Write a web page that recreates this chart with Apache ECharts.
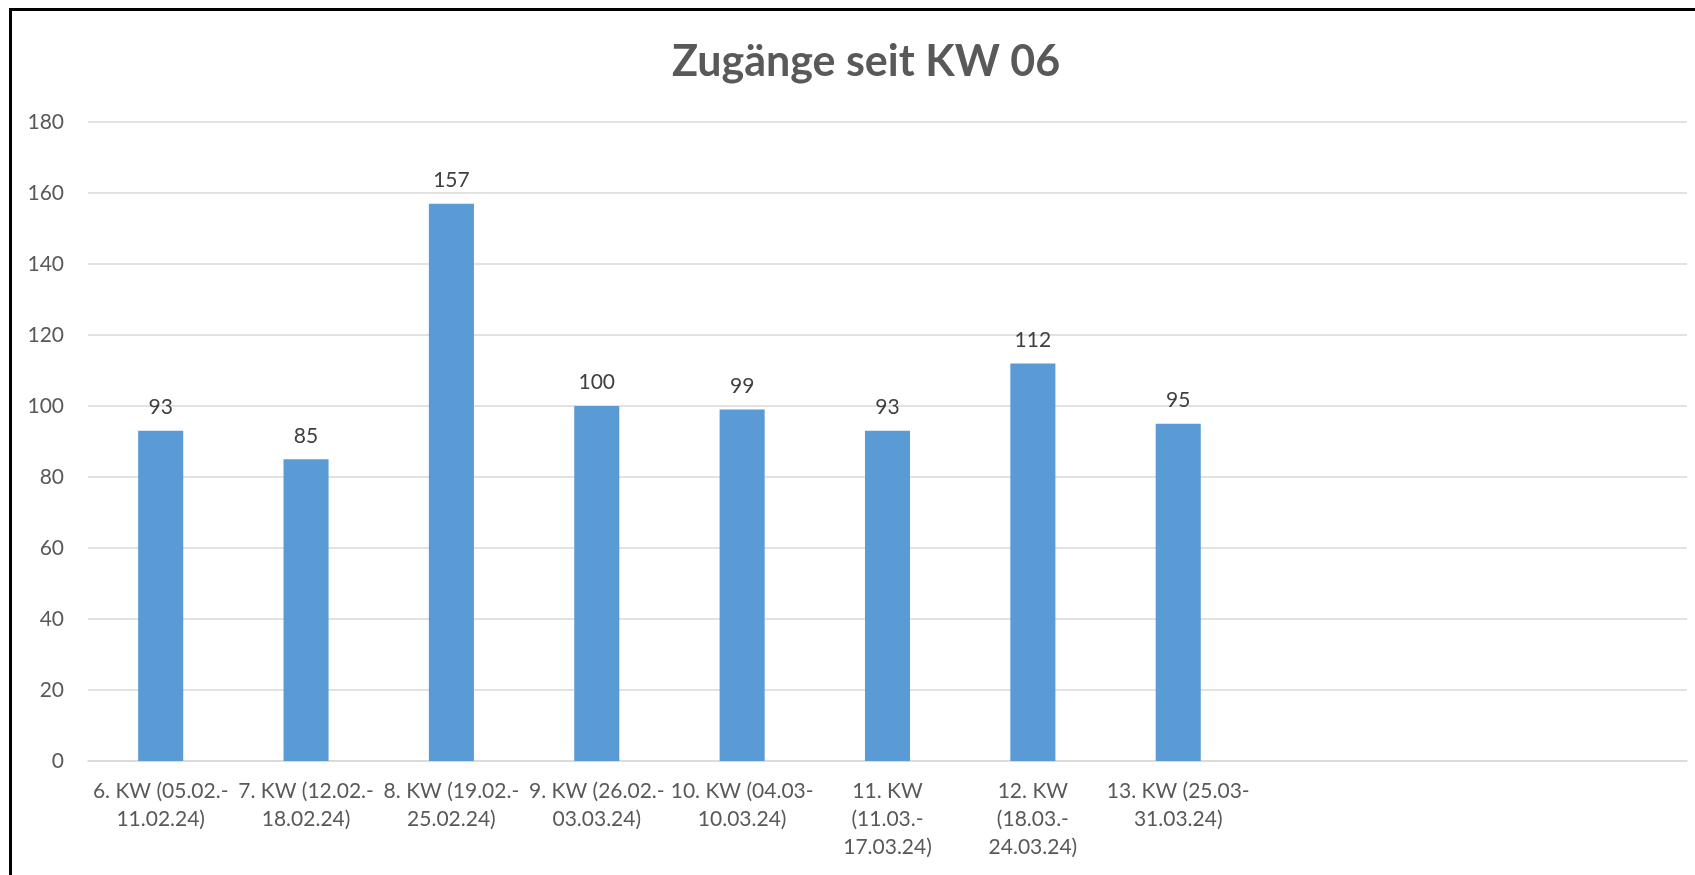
<!DOCTYPE html>
<html>
<head>
<meta charset="utf-8">
<title>Zugänge seit KW 06</title>
<script src="https://cdn.jsdelivr.net/npm/echarts@6/dist/echarts.min.js"></script>
<style>
  html, body { margin: 0; padding: 0; background: #fff; }
  #main { width: 1695px; height: 875px; }
</style>
</head>
<body>
<div id="main"></div>
<script>
// weeks (last three slots are empty in the original sheet)
var weeks = [
  '6. KW (05.02.-11.02.24)',
  '7. KW (12.02.-18.02.24)',
  '8. KW (19.02.-25.02.24)',
  '9. KW (26.02.-03.03.24)',
  '10. KW (04.03-10.03.24)',
  '11. KW (11.03.-17.03.24)',
  '12. KW (18.03.-24.03.24)',
  '13. KW (25.03-31.03.24)',
  '', '', ''
];
var zugaenge = [93, 85, 157, 100, 99, 93, 112, 95, null, null, null];
var yTicks = [0, 20, 40, 60, 80, 100, 120, 140, 160, 180];

var font = 'Lato, "Liberation Sans", sans-serif';

// wrap labels roughly like Excel did: after the dash, and before "(" when too long
function wrapLabel(s) {
  if (!s) return '';
  var i = s.indexOf('-');
  var head = s.slice(0, i + 1), tail = s.slice(i + 1);
  if (head.length > 14) {
    var p = head.indexOf('(');
    head = head.slice(0, p).trim() + '\n' + head.slice(p);
  }
  return head + '\n' + tail;
}

var myChart = echarts.init(document.getElementById('main'));
myChart.setOption({
  animation: false,
  textStyle: { fontFamily: font },
  title: {
    text: 'Zugänge seit KW 06',
    left: 667,
    top: 36,
    textStyle: { fontFamily: font, fontSize: 43, fontWeight: 'bold', color: '#595959' }
  },
  graphic: [{
    type: 'rect',
    shape: { x: 10.5, y: 9.5, width: 1800, height: 1000 },
    style: { fill: 'none', stroke: '#000', lineWidth: 3 },
    silent: true
  }],
  grid: { left: 88, right: 8, top: 122, bottom: 114 },
  xAxis: {
    type: 'category',
    data: weeks,
    axisLine: { lineStyle: { color: '#D9D9D9', width: 1.5 } },
    axisTick: { show: false },
    axisLabel: {
      interval: 0,
      margin: 16,
      color: '#595959',
      fontSize: 21,
      lineHeight: 28,
      fontFamily: font,
      formatter: wrapLabel
    }
  },
  yAxis: {
    type: 'value',
    min: yTicks[0],
    max: yTicks[yTicks.length - 1],
    interval: yTicks[1] - yTicks[0],
    axisLine: { show: false },
    axisTick: { show: false },
    splitLine: { lineStyle: { color: '#D9D9D9', width: 1.5 } },
    axisLabel: { margin: 24, color: '#595959', fontSize: 21, fontFamily: font }
  },
  series: [{
    name: 'Zugänge',
    type: 'bar',
    data: zugaenge,
    barWidth: '31%',
    itemStyle: { color: '#5B9BD5' },
    label: {
      show: true,
      position: 'top',
      distance: 13,
      color: '#404040',
      fontSize: 21,
      fontFamily: font
    }
  }]
});
</script>
</body>
</html>
